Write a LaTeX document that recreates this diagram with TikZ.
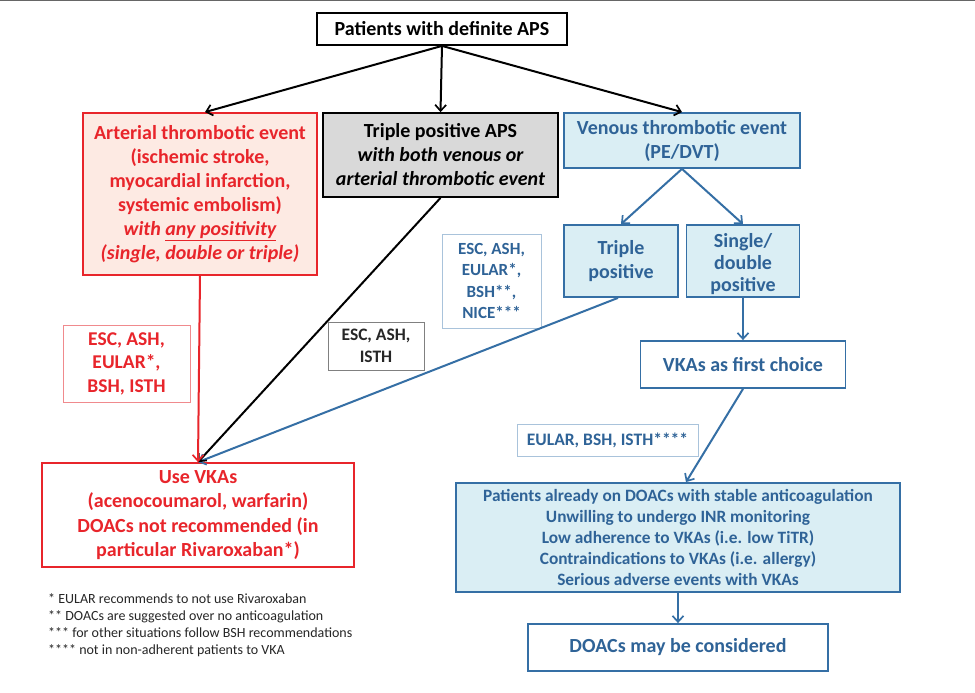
\documentclass[tikz,border=0pt]{standalone}
\usepackage{fontspec}
\setmainfont{Carlito}
\usetikzlibrary{arrows.meta}
\definecolor{myred}{HTML}{E8252B}
\definecolor{pinkfill}{HTML}{FDEAE3}
\definecolor{myblue}{HTML}{356FA5}
\definecolor{bluetext}{HTML}{2F6397}
\definecolor{bluefill}{HTML}{DAEEF4}
\definecolor{lblue}{HTML}{A9C3DB}
\definecolor{lred}{HTML}{F08A8D}
\definecolor{grayfill}{HTML}{D9D9D9}
\begin{document}
\begin{tikzpicture}[x=1pt,y=-1pt,
  box/.style={draw,line width=1.8pt,align=center,inner sep=0pt,font=\bfseries\fontsize{20}{24}\selectfont},
  redbox/.style={box,draw=myred,text=myred},
  bluebox/.style={box,draw=myblue,text=bluetext},
  lbl/.style={draw,line width=0.8pt,align=center,inner sep=0pt,font=\bfseries\fontsize{19.5}{23.5}\selectfont},
  conn/.style={line width=2pt,-{Straight Barb[length=6pt,width=11pt,line width=1.7pt]}}]
\useasboundingbox (0,0) rectangle (975,693);
\fill[white] (0,0) rectangle (975,693);
\draw[gray!80!black,line width=1.2pt] (0,0.6) -- (975,0.6);
% nodes
\node[box,fill=white,minimum width=250pt,minimum height=32pt] (top) at (442,29) {Patients with definite APS};
\node[redbox,fill=pinkfill,minimum width=234pt,minimum height=162pt] (art) at (200,194)
  {Arterial thrombotic event\\(ischemic stroke,\\myocardial infarction,\\systemic embolism)\\\itshape with \underline{any positivity}\\\itshape (single, double or triple)};
\node[box,fill=grayfill,minimum width=235pt,minimum height=84pt] (tri) at (440.5,155)
  {Triple positive APS\\\itshape with both venous or\\\itshape arterial thrombotic event};
\node[bluebox,fill=bluefill,minimum width=236pt,minimum height=55pt] (ven) at (682,140.5)
  {Venous thrombotic event\\(PE/DVT)};
\node[bluebox,fill=bluefill,minimum width=114pt,minimum height=72pt] (tp) at (621,261)
  {Triple\\positive};
\node[bluebox,fill=bluefill,minimum width=113pt,minimum height=72pt] (sd) at (743,261) {};
\node[inner sep=0pt,align=center,text=bluetext,font=\bfseries\fontsize{20}{22}\selectfont] (sdt) at (743,264)
  {Single/\\double\\positive};
\node[bluebox,fill=white,minimum width=205pt,minimum height=47pt] (vf) at (743,364.5)
  {VKAs as first choice};
\node[bluebox,fill=bluefill,minimum width=444pt,minimum height=109pt,font=\bfseries\fontsize{17.3}{20.8}\selectfont] (pat) at (678,537.5)
  {Patients already on DOACs with stable anticoagulation\\Unwilling to undergo INR monitoring\\Low adherence to VKAs (i.e. low TiTR)\\Contraindications to VKAs (i.e. allergy)\\Serious adverse events with VKAs};
\node[bluebox,fill=white,minimum width=300pt,minimum height=47pt] (doac) at (678,647.5)
  {DOACs may be considered};
\node[redbox,fill=white,minimum width=312pt,minimum height=104pt,font=\bfseries\fontsize{20}{24.5}\selectfont] (use) at (198,515)
  {Use VKAs\\(acenocoumarol, warfarin)\\DOACs not recommended (in\\particular Rivaroxaban*)};
% labels
\node[lbl,draw=lred,text=myred,minimum width=127pt,minimum height=77pt] (l1) at (126.5,363.5)
  {ESC, ASH,\\EULAR*,\\BSH, ISTH};
\node[lbl,draw=gray,text=black!85,minimum width=96pt,minimum height=48pt,font=\bfseries\fontsize{17.5}{22}\selectfont] (l2) at (376,346)
  {ESC, ASH,\\ISTH};
\node[lbl,draw=lblue,text=bluetext,minimum width=99pt,minimum height=94pt,font=\bfseries\fontsize{17}{21.5}\selectfont] (l3) at (491.5,281)
  {ESC, ASH,\\EULAR*,\\BSH**,\\NICE***};
\node[lbl,draw=lblue,text=bluetext,minimum width=181pt,minimum height=32pt,font=\bfseries\fontsize{17.5}{20}\selectfont] (l4) at (607.5,440)
  {EULAR, BSH, ISTH****};
% footnotes
\node[anchor=north west,align=left,inner sep=0pt,text=black!85,font=\fontsize{14}{17}\selectfont] (fn) at (48,593)
  {* EULAR recommends to not use Rivaroxaban\\** DOACs are suggested over no anticoagulation\\*** for other situations follow BSH recommendations\\**** not in non-adherent patients to VKA};
% connectors
\draw[conn] (top.south) -- ([xshift=5pt]art.north);
\draw[conn] (top.south) -- (tri.north);
\draw[conn] (top.south) -- (ven.north);
\draw[conn,myblue] (ven.south) -- (tp.north);
\draw[conn,myblue] (ven.south) -- (sd.north);
\draw[conn,myblue] (sd.south) -- (vf.north);
\draw[conn,myblue] (vf.south) -- ([xshift=8pt]pat.north);
\draw[conn,myblue] (pat.south) -- (doac.north);
\draw[conn,myblue] ([xshift=-3pt]tp.south) -- (use.north);
\draw[conn,black] (tri.south) -- (use.north);
\draw[conn,myred] (art.south) -- (use.north);
\end{tikzpicture}
\end{document}
